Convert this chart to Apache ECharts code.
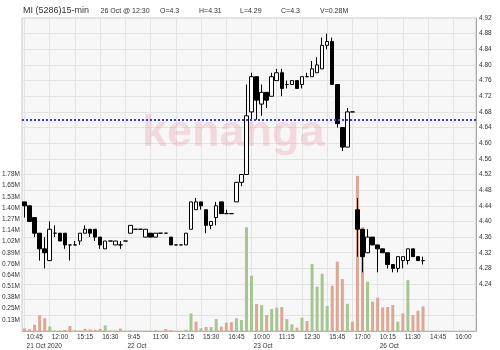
<!DOCTYPE html>
<html><head><meta charset="utf-8">
<script src="https://cdn.jsdelivr.net/npm/echarts@6/dist/echarts.min.js"></script>
<style>html,body{margin:0;padding:0;background:#fff}#c{width:500px;height:350px}</style>
</head><body><div id="c"></div>
<script>
// ---- categories (15-min slots) ----
const categories = [
 '10:45','11:00','11:15','11:30','11:45','12:00','12:15','12:30','14:45','15:00','15:15','15:30','15:45','16:00','16:15','16:30','16:45','17:00',
 '9:15','9:30','9:45','10:00','10:15','10:30','10:45','11:00','11:15','11:30','11:45','12:00','12:15','12:30','14:45','15:00','15:15','15:30','15:45','16:00','16:15','16:30','16:45','17:00',
 '9:15','9:30','9:45','10:00','10:15','10:30','10:45','11:00','11:15','11:30','11:45','12:00','12:15','12:30','14:45','15:00','15:15','15:30','15:45','16:00','16:15','16:30','16:45','17:00',
 '9:15','9:30','9:45','10:00','10:15','10:30','10:45','11:00','11:15','11:30','11:45','12:00','12:15','12:30','14:45','15:00','15:15','15:30','15:45','16:00','16:15','16:30','16:45','17:00'
];
const dateTickIndex = [0, 20, 45, 70];
const dateTickText = ['21 Oct 2020', '22 Oct', '23 Oct', '26 Oct'];

// ---- OHLC ----
const opens = [4.45,4.44,4.41,4.37,4.33,4.30,4.37,4.37,4.37,4.34,
 4.34,4.35,4.37,4.38,4.38,4.36,4.33,4.35,4.34,4.34,
 4.35,4.37,4.38,4.38,4.36,4.37,4.36,4.37,4.37,4.36,
 4.34,4.34,4.34,4.38,4.43,4.45,4.43,4.39,4.41,4.45,
 4.42,4.42,4.45,4.50,4.52,4.68,4.77,4.70,4.73,4.72,
 4.76,4.78,4.75,4.75,4.76,4.75,4.77,4.77,4.78,4.79,
 4.85,4.86,4.75,4.64,4.59,4.68,4.43,4.38,4.32,4.36,
 4.34,4.33,4.32,4.29,4.28,4.30,4.30,4.33,4.31,4.30];
const closes = [4.44,4.40,4.37,4.33,4.32,4.38,4.37,4.35,4.34,4.34,
 4.34,4.37,4.38,4.37,4.36,4.34,4.35,4.35,4.35,4.34,
 4.35,4.39,4.38,4.38,4.38,4.36,4.37,4.37,4.37,4.34,
 4.34,4.34,4.37,4.45,4.45,4.44,4.39,4.40,4.44,4.42,
 4.42,4.42,4.50,4.52,4.67,4.77,4.71,4.73,4.71,4.77,
 4.78,4.74,4.75,4.76,4.74,4.77,4.77,4.79,4.80,4.85,
 4.86,4.75,4.65,4.59,4.68,4.68,4.38,4.31,4.36,4.34,
 4.33,4.32,4.29,4.28,4.31,4.31,4.33,4.31,4.30,4.30];
const highs = [4.45,4.44,4.41,4.37,4.36,4.40,4.39,4.37,4.37,4.34,
 4.35,4.37,4.39,4.38,4.38,4.36,4.35,4.35,4.35,4.35,
 4.35,4.39,4.38,4.38,4.38,4.37,4.37,4.37,4.37,4.36,
 4.34,4.34,4.37,4.45,4.46,4.45,4.43,4.40,4.45,4.45,
 4.43,4.42,4.50,4.52,4.75,4.78,4.77,4.75,4.73,4.78,
 4.79,4.79,4.76,4.76,4.76,4.77,4.78,4.81,4.82,4.87,
 4.88,4.87,4.75,4.64,4.69,4.68,4.46,4.38,4.38,4.36,
 4.34,4.33,4.32,4.29,4.31,4.31,4.33,4.33,4.31,4.31];
const lows = [4.41,4.40,4.36,4.30,4.28,4.30,4.36,4.35,4.33,4.30,
 4.34,4.34,4.37,4.36,4.35,4.33,4.33,4.35,4.34,4.33,
 4.35,4.37,4.38,4.38,4.36,4.36,4.36,4.37,4.37,4.34,
 4.34,4.34,4.34,4.38,4.43,4.43,4.37,4.38,4.39,4.42,
 4.42,4.42,4.45,4.49,4.52,4.66,4.66,4.67,4.69,4.72,
 4.76,4.72,4.74,4.75,4.74,4.74,4.77,4.77,4.78,4.79,
 4.84,4.75,4.64,4.58,4.59,4.68,4.31,4.27,4.32,4.34,
 4.27,4.32,4.28,4.27,4.27,4.28,4.29,4.31,4.30,4.29];

// ---- volume (millions) and its colour direction (1 = up/green, 0 = down/red) ----
const volumes = [0.03,0.02,0.07,0.18,0.145,0.05,0.004,0.004,0.012,0.057,
 0.008,0.004,0.024,0.018,0.014,0.024,0.064,0.006,0.004,0.028,
 0.002,0.004,0.001,0.001,0.003,0.004,0.008,0.001,0.022,0.01,
 0.002,0.002,0.015,0.2,0.106,0.03,0.045,0.045,0.135,0.05,
 0.095,0.10,0.144,0.125,1.18,0.63,0.307,0.295,0.182,0.25,
 0.265,0.273,0.136,0.076,0.038,0.151,0.114,0.761,0.504,0.651,
 0.284,0.515,0.788,0.591,0.31,0.106,1.765,1.18,0.56,0.333,
 0.379,0.269,0.273,0.295,0.106,0.2,0.579,0.182,0.231,0.28];
const volumeUp = [0,0,0,0,0,1,1,0,0,0,
 1,1,0,0,0,0,1,0,1,0,
 0,1,1,1,1,0,1,0,0,0,
 0,0,1,1,0,1,0,1,1,0,
 0,0,1,1,1,1,0,1,0,1,
 1,0,1,1,0,1,0,1,1,1,
 1,0,0,0,1,0,0,0,1,0,
 0,0,0,0,1,0,1,0,0,0];

// ---- header & reference line ----
const titleText = 'MI (5286)15-min';
const headerItems = ['26 Oct @ 12:30', 'O=4.3', 'H=4.31', 'L=4.29', 'C=4.3', 'V=0.28M'];
const headerX = [100.5, 160, 199, 240, 281, 320];
const refLine = 4.66;
const priceMin = 4.12, priceMax = 4.92, priceStep = 0.04, priceLabelFloor = 4.24;
const volMax = 3.56, volSteps = 28, volLabelCeil = 1.78;

const FONT = "'Liberation Sans', Arial, sans-serif";
const GREEN = '#a5c691', RED = '#dca793';

const chart = echarts.init(document.getElementById('c'), null, {renderer: 'canvas'});
const candleData = opens.map((o, i) => [o, closes[i], lows[i], highs[i]]);
const volData = volumes.map((v, i) => ({value: v, itemStyle: {color: volumeUp[i] ? GREEN : RED}}));
const every5 = (i) => i % 5 === 0;
const isDateTick = (i) => dateTickIndex.indexOf(i) >= 0;

const graphics = [
  {type: 'text', z: 1, style: {text: 'kenanga', x: 142, y: 134, textVerticalAlign: 'middle',
    font: "bold 45px 'Liberation Sans', Arial, sans-serif", fill: 'rgba(232,150,165,0.3)'}},
  {type: 'text', z: 10, style: {text: titleText, x: 23, y: 11, textVerticalAlign: 'middle',
    font: "9px 'Liberation Sans', Arial, sans-serif", fill: '#333'}}
];
headerItems.forEach((t, k) => graphics.push({type: 'text', z: 10, style: {text: t, x: headerX[k], y: 11,
  textVerticalAlign: 'middle', font: "7px 'Liberation Sans', Arial, sans-serif", fill: '#333'}}));

chart.setOption({
  animation: false,
  textStyle: {fontFamily: FONT},
  grid: {left: 22, right: 24, top: 18, bottom: 19, show: true, backgroundColor: '#f7f7f7',
    borderColor: '#c8c8c8', borderWidth: 1, containLabel: false, outerBoundsMode: 'none'},
  graphic: graphics,
  xAxis: [{
    type: 'category', data: categories, boundaryGap: true, position: 'bottom',
    axisLine: {lineStyle: {color: '#b4b4b4'}},
    axisTick: {interval: every5, alignWithLabel: true, length: 8, lineStyle: {color: '#8a8a8a'}},
    axisLabel: {interval: every5, align: 'left', margin: 1, lineHeight: 9.5, fontSize: 6.5,
      color: '#333', padding: [0, 0, 0, 2], showMinLabel: true, hideOverlap: false},
    splitLine: {show: true, interval: every5, alignWithLabel: true, lineStyle: {color: '#e3e3e3'}}
  }, {
    type: 'category', data: categories, boundaryGap: true, position: 'bottom',
    axisLine: {show: false}, splitLine: {show: false},
    axisTick: {interval: isDateTick, alignWithLabel: true, length: 17, lineStyle: {color: '#8a8a8a'}},
    axisLabel: {interval: isDateTick, align: 'left', margin: 10.5, lineHeight: 9.5, fontSize: 6.5,
      color: '#333', padding: [0, 0, 0, 2], showMinLabel: true, hideOverlap: false,
      formatter: (v, i) => dateTickText[dateTickIndex.indexOf(i)] || ''}
  }],
  yAxis: [{
    type: 'value', position: 'right', min: priceMin, max: priceMax, interval: priceStep,
    axisLine: {show: true, lineStyle: {color: '#a8a8a8'}}, axisTick: {show: false},
    axisLabel: {fontSize: 6.5, color: '#333', margin: 3,
      formatter: (v) => v >= priceLabelFloor - 0.001 ? v.toFixed(2) : ''},
    splitLine: {show: true, lineStyle: {color: '#e3e3e3'}}
  }, {
    type: 'value', position: 'left', min: 0, max: volMax, interval: volMax / volSteps,
    axisLine: {show: false}, axisTick: {show: false}, splitLine: {show: false},
    axisLabel: {fontSize: 6.5, color: '#333', margin: 2, showMinLabel: false,
      formatter: (v) => (v > 0.001 && v <= volLabelCeil + 0.001) ? v.toFixed(2) + 'M' : ''}
  }],
  series: [{
    type: 'bar', xAxisIndex: 0, yAxisIndex: 1, data: volData, barWidth: 3, z: 2, silent: true
  }, {
    type: 'candlestick', xAxisIndex: 0, yAxisIndex: 0, data: candleData, barWidth: 4, z: 3,
    itemStyle: {color: '#ffffff', color0: '#000000', borderColor: '#000000', borderColor0: '#000000', borderWidth: 1},
    markLine: {silent: true, symbol: 'none', label: {show: false},
      lineStyle: {color: '#2a3cff', type: [2, 2], width: 2},
      data: [{yAxis: refLine}]}
  }]
});
</script></body></html>
